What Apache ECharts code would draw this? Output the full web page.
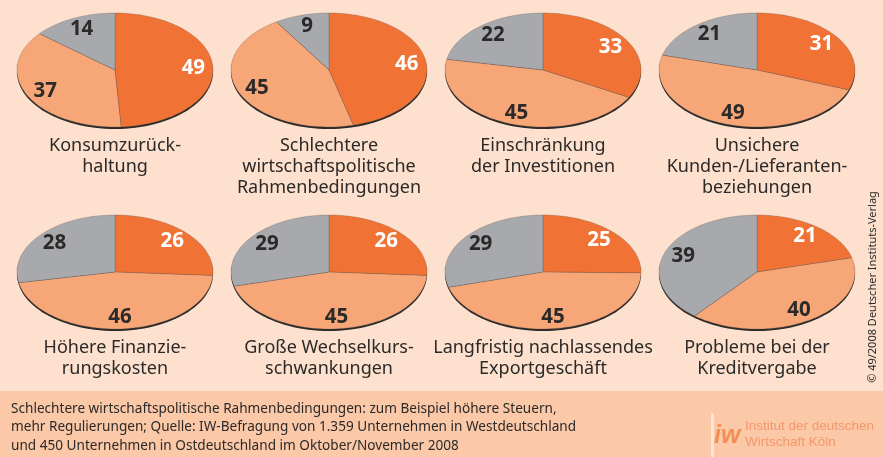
<!DOCTYPE html>
<html>
<head>
<meta charset="utf-8">
<script src="https://cdn.jsdelivr.net/npm/echarts@6/dist/echarts.min.js"></script>
<style>
  html, body { margin: 0; padding: 0; background: #fde0cd; }
  #chart { width: 883px; height: 457px; }
</style>
</head>
<body>
<div id="chart"></div>
<script>
// Ursachen (one pie each)
const causes = [
  'Konsumzurück-\nhaltung',
  'Schlechtere\nwirtschaftspolitische\nRahmenbedingungen',
  'Einschränkung\nder Investitionen',
  'Unsichere\nKunden-/Lieferanten-\nbeziehungen',
  'Höhere Finanzie-\nrungskosten',
  'Große Wechselkurs-\nschwankungen',
  'Langfristig nachlassendes\nExportgeschäft',
  'Probleme bei der\nKreditvergabe'
];
// shares in percent, orange / light orange / grey
const shareStrong = [49, 46, 33, 31, 26, 26, 25, 21];
const shareSome   = [37, 45, 45, 49, 46, 45, 45, 40];
const shareNone   = [14,  9, 22, 21, 28, 29, 29, 39];

const footerLines = [
  'Schlechtere wirtschaftspolitische Rahmenbedingungen: zum Beispiel höhere Steuern,',
  'mehr Regulierungen; Quelle: IW-Befragung von 1.359 Unternehmen in Westdeutschland',
  'und 450 Unternehmen in Ostdeutschland im Oktober/November 2008'
];

const sliceColors = ['#f07335', '#f7a677', '#a7a9ac'];
const labelColors = ['#ffffff', '#2b2a29', '#2b2a29'];
const FONT = '"Noto Sans", "Open Sans", sans-serif';

// layout of the 4 x 2 grid
const colX = [115, 329, 543, 757];
const rowY = [70, 272];
const RX = 98, RY = 57;

// one data row per slice: [pie, slice, start, value, total]
const sliceData = [];
causes.forEach((c, i) => {
  const vals = [shareStrong[i], shareSome[i], shareNone[i]];
  const total = vals[0] + vals[1] + vals[2];
  let start = 0;
  vals.forEach((v, s) => {
    sliceData.push([i, s, start, v, total]);
    start += v;
  });
});

function ellipsePoint(cx, cy, a, f) {
  return [cx + RX * f * Math.sin(a), cy - RY * f * Math.cos(a)];
}

function renderSlice(params, api) {
  const i = api.value(0), s = api.value(1);
  const start = api.value(2), v = api.value(3), total = api.value(4);
  const cx = colX[i % 4], cy = rowY[Math.floor(i / 4)];
  const a0 = start / total * Math.PI * 2;
  const a1 = (start + v) / total * Math.PI * 2;
  const pts = [[cx, cy]];
  const steps = 60;
  for (let k = 0; k <= steps; k++) {
    pts.push(ellipsePoint(cx, cy, a0 + (a1 - a0) * k / steps, 1));
  }
  const children = [];
  if (s === 0) {
    // dark rim under the disc
    const rim = [];
    for (let k = 0; k <= 120; k++) rim.push(ellipsePoint(cx, cy + 2, k / 120 * Math.PI * 2, 1));
    children.push({ type: 'polygon', z2: 0, shape: { points: rim }, style: { fill: '#2b2a29' } });
  }
  children.push({
    type: 'polygon', z2: 1,
    shape: { points: pts },
    style: { fill: sliceColors[s], stroke: 'rgba(90,80,75,0.45)', lineWidth: 0.6 }
  });
  const mid = (a0 + a1) / 2;
  const lp = ellipsePoint(cx, cy, mid, 0.8);
  children.push({
    type: 'text', z2: 5,
    x: lp[0], y: lp[1],
    style: {
      text: String(v),
      fill: labelColors[s],
      font: 'bold 20.5px ' + FONT,
      textAlign: 'center',
      textVerticalAlign: 'middle'
    }
  });
  return { type: 'group', children };
}

const chart = echarts.init(document.getElementById('chart'), null, { renderer: 'canvas' });

const graphics = [];
// footer band
graphics.push({ type: 'rect', shape: { x: 0, y: 391, width: 883, height: 66 }, style: { fill: '#fbc8a8' }, z: 0 });
footerLines.forEach((t, k) => {
  graphics.push({
    type: 'text', x: 11, y: 409 + k * 18.5, z: 2,
    style: { text: t, font: '13.6px ' + FONT, fill: '#2b2a29', textVerticalAlign: 'middle' }
  });
});
// titles under the pies
causes.forEach((c, i) => {
  graphics.push({
    type: 'text', x: colX[i % 4], y: i < 4 ? 135 : 337, z: 2,
    style: { text: c, font: '18px ' + FONT, fill: '#2b2a29', textAlign: 'center', textVerticalAlign: 'top', lineHeight: 21 }
  });
});
// copyright, vertical
graphics.push({
  type: 'text', x: 873, y: 287, rotation: Math.PI / 2, z: 2,
  style: { text: '© 49/2008 Deutscher Instituts-Verlag', font: '11px ' + FONT, fill: '#2b2a29', textAlign: 'center', textVerticalAlign: 'middle' }
});
// IW logo
graphics.push({ type: 'rect', shape: { x: 711, y: 413, width: 3, height: 44 }, style: { fill: '#fde6d6' }, z: 2 });
graphics.push({
  type: 'text', x: 714, y: 436, z: 2,
  style: { text: 'iw', font: 'italic bold 25px "Liberation Sans", sans-serif', fill: '#f28d55', textVerticalAlign: 'middle' }
});
graphics.push({
  type: 'text', x: 745, y: 434, z: 2,
  style: { text: 'Institut der deutschen\nWirtschaft Köln', font: '13.5px "Liberation Sans", Arial, sans-serif', fill: '#f3986a', textVerticalAlign: 'middle', lineHeight: 16 }
});

chart.setOption({
  backgroundColor: '#fde0cd',
  animation: false,
  graphic: graphics,
  series: [{
    type: 'custom',
    coordinateSystem: 'none',
    renderItem: renderSlice,
    data: sliceData
  }]
});
</script>
</body>
</html>
